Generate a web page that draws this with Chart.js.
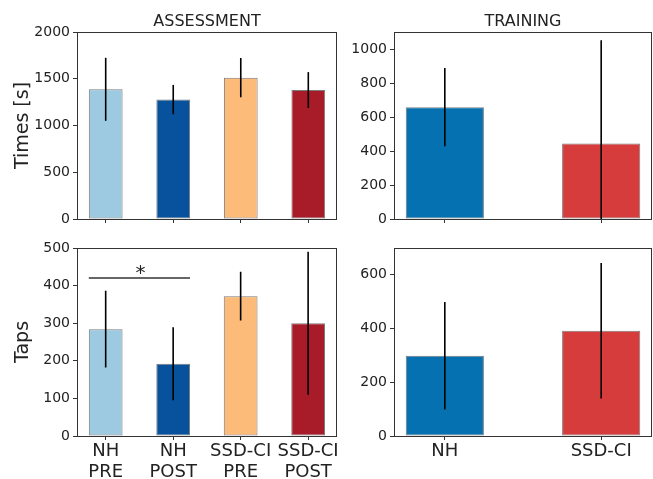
<!DOCTYPE html>
<html>
<head>
<meta charset="utf-8">
<script src="https://cdn.jsdelivr.net/npm/chart.js@4.4.1/dist/chart.umd.min.js"></script>
<style>
  html, body { margin: 0; padding: 0; background: #fff; }
  #wrap { position: relative; width: 653px; height: 479px; overflow: hidden; }
  #wrap canvas { position: absolute; }
</style>
</head>
<body>
<div id="wrap">
  <canvas id="timesAssess" width="340" height="232" style="left:0;top:0"></canvas>
  <canvas id="timesTrain" width="313" height="232" style="left:340px;top:0"></canvas>
  <canvas id="tapsAssess" width="340" height="247" style="left:0;top:232px"></canvas>
  <canvas id="tapsTrain" width="313" height="247" style="left:340px;top:232px"></canvas>
</div>
<script>
// --- data ---
const assessLabels = [['NH', 'PRE'], ['NH', 'POST'], ['SSD-CI', 'PRE'], ['SSD-CI', 'POST']];
const trainLabels = ['NH', 'SSD-CI'];

const assessTimes = [1387, 1277, 1512, 1379];
const assessTimesErr = [337, 157, 210, 192];
const trainTimes = [658, 444];
const trainTimesErr = [230, 607];

const assessTaps = [284, 192, 372, 300];
const assessTapsErr = [102, 97, 65, 190];
const trainTaps = [299, 392];
const trainTapsErr = [200, 252];

// significance bracket: [from bar, to bar, level, mark]
const tapsSig = [[0, 1, 420, '*']];

const timesTicksAssess = [0, 500, 1000, 1500, 2000];
const timesTicksTrain = [0, 200, 400, 600, 800, 1000];
const tapsTicksAssess = [0, 100, 200, 300, 400, 500];
const tapsTicksTrain = [0, 200, 400, 600];

const assessColors = ['#9ecae1', '#08519c', '#fdbb7a', '#a71c28'];
const trainColors = ['#0571b0', '#d73c3c'];

const FONT = "'DejaVu Sans', sans-serif";
const INK = '#222';

// error bars, box spines, panel title and significance marks
const panelDecor = {
  id: 'panelDecor',
  afterDatasetsDraw(chart, args, opts) {
    const { ctx, chartArea: a } = chart;
    const y = chart.scales.y;
    const meta = chart.getDatasetMeta(0);

    ctx.save();
    ctx.beginPath();
    ctx.rect(a.left, a.top, a.right - a.left, a.bottom - a.top);
    ctx.clip();
    ctx.strokeStyle = '#000';
    ctx.lineWidth = 1.6;
    opts.values.forEach((v, i) => {
      const px = meta.data[i].x;
      ctx.beginPath();
      ctx.moveTo(px, y.getPixelForValue(v - opts.errors[i]));
      ctx.lineTo(px, y.getPixelForValue(v + opts.errors[i]));
      ctx.stroke();
    });
    ctx.restore();

    ctx.save();
    ctx.strokeStyle = '#333';
    ctx.lineWidth = 1;
    ctx.strokeRect(Math.round(a.left) + 0.5, Math.round(a.top) + 0.5,
      Math.round(a.right - a.left) - 1, Math.round(a.bottom - a.top));

    (opts.sig || []).forEach(([i0, i1, level, mark]) => {
      const b0 = meta.data[i0], b1 = meta.data[i1];
      const x0 = b0.x - b0.width / 2, x1 = b1.x + b1.width / 2;
      const py = y.getPixelForValue(level);
      ctx.strokeStyle = '#333';
      ctx.lineWidth = 1.5;
      ctx.beginPath();
      ctx.moveTo(x0, py);
      ctx.lineTo(x1, py);
      ctx.stroke();
      ctx.fillStyle = INK;
      ctx.font = '20px ' + FONT;
      ctx.textAlign = 'center';
      ctx.textBaseline = 'alphabetic';
      ctx.fillText(mark, (x0 + x1) / 2 + 1, py + 1);
    });

    if (opts.title) {
      ctx.fillStyle = INK;
      ctx.font = '16px ' + FONT;
      ctx.textAlign = 'center';
      ctx.textBaseline = 'alphabetic';
      ctx.fillText(opts.title, (a.left + a.right) / 2, a.top - 6);
    }
    ctx.restore();
  }
};

function makePanel(id, cfg) {
  const n = cfg.values.length;
  const canvas = document.getElementById(id);
  const xHeight = canvas.height - cfg.bottom;
  new Chart(canvas, {
    type: 'bar',
    data: {
      datasets: [{
        data: cfg.values.map((v, i) => ({ x: i, y: v })),
        backgroundColor: cfg.colors,
        borderColor: '#7a7a7a',
        borderWidth: 1,
        borderSkipped: false,
        barPercentage: 0.5,
        categoryPercentage: 1
      }]
    },
    options: {
      responsive: false,
      animation: false,
      events: [],
      layout: { padding: { left: 0, top: cfg.top, right: cfg.right, bottom: 0 } },
      plugins: {
        legend: { display: false },
        tooltip: { enabled: false },
        panelDecor: { values: cfg.values, errors: cfg.errors, title: cfg.title, sig: cfg.sig }
      },
      scales: {
        x: {
          type: 'linear',
          offset: false,
          min: cfg.xMin,
          max: n - 1 - cfg.xMin,
          afterBuildTicks: (s) => { s.ticks = cfg.values.map((v, i) => ({ value: i })); },
          afterFit: (s) => { s.height = xHeight; },
          grid: { offset: false, drawOnChartArea: false, drawTicks: true, tickLength: 4, tickColor: '#333' },
          border: { display: false },
          ticks: {
            autoSkip: false,
            maxRotation: 0,
            padding: 1,
            color: INK,
            font: { family: FONT, size: 18, lineHeight: 1.17 },
            callback: (v) => (cfg.showLabels ? cfg.labels[v] : '')
          }
        },
        y: {
          min: 0,
          max: cfg.yMax,
          afterBuildTicks: (s) => { s.ticks = cfg.ticks.map((v) => ({ value: v })); },
          afterFit: (s) => { s.width = cfg.left; },
          grid: { drawOnChartArea: false, drawTicks: true, tickLength: 4, tickColor: '#333' },
          border: { display: false },
          ticks: { padding: 3, color: INK, font: { family: FONT, size: 14 }, callback: (v) => String(v) },
          title: {
            display: !!cfg.yTitle,
            text: cfg.yTitle,
            color: INK,
            font: { family: FONT, size: 19 },
            padding: { top: 12, bottom: 0 }
          }
        }
      }
    },
    plugins: [panelDecor]
  });
}

makePanel('timesAssess', {
  values: assessTimes, errors: assessTimesErr, colors: assessColors, labels: assessLabels,
  ticks: timesTicksAssess, yMax: 2000, xMin: -0.425, title: 'ASSESSMENT', yTitle: 'Times [s]',
  top: 32, bottom: 219, left: 77, right: 3, showLabels: false
});
makePanel('timesTrain', {
  values: trainTimes, errors: trainTimesErr, colors: trainColors, labels: trainLabels,
  ticks: timesTicksTrain, yMax: 1100, xMin: -0.325, title: 'TRAINING',
  top: 32, bottom: 219, left: 54, right: 1, showLabels: false
});
makePanel('tapsAssess', {
  values: assessTaps, errors: assessTapsErr, colors: assessColors, labels: assessLabels,
  ticks: tapsTicksAssess, yMax: 500, xMin: -0.425, yTitle: 'Taps', sig: tapsSig,
  top: 16, bottom: 204, left: 77, right: 3, showLabels: true
});
makePanel('tapsTrain', {
  values: trainTaps, errors: trainTapsErr, colors: trainColors, labels: trainLabels,
  ticks: tapsTicksTrain, yMax: 700, xMin: -0.325,
  top: 16, bottom: 204, left: 54, right: 1, showLabels: true
});
</script>
</body>
</html>
